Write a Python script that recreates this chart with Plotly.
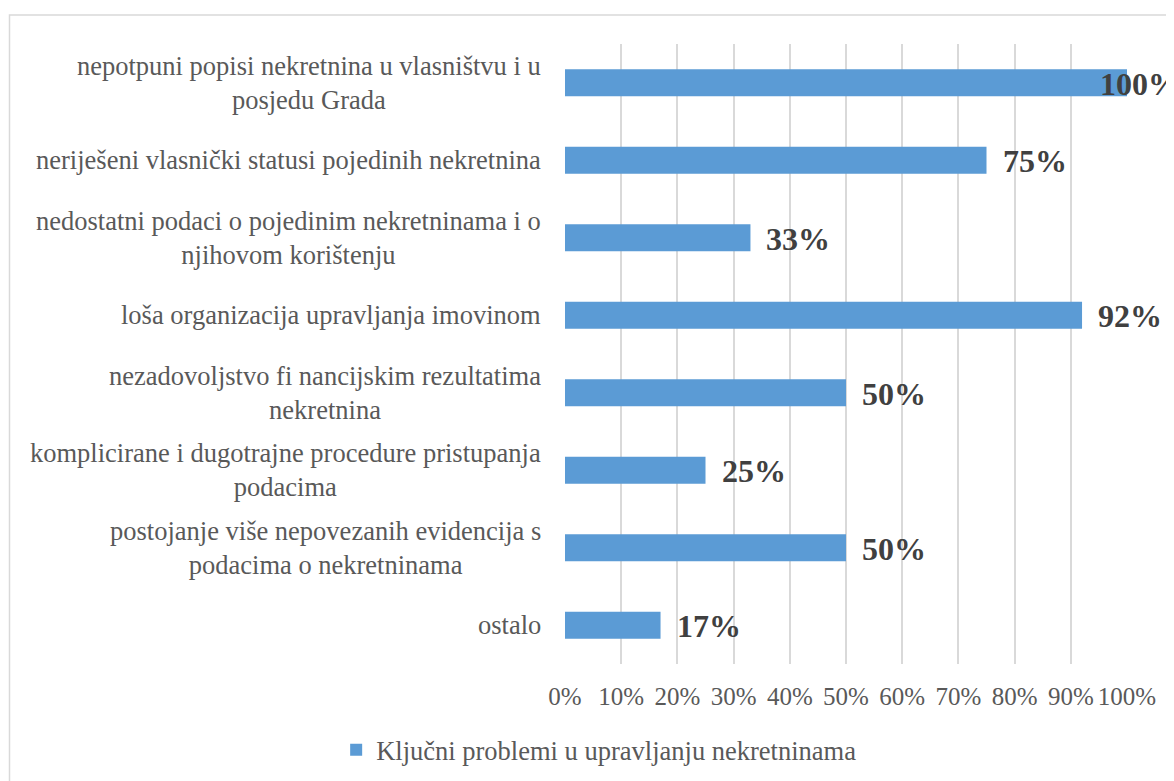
import plotly.graph_objects as go

categories = [
    "nepotpuni popisi nekretnina u vlasništvu i u<br>posjedu Grada",
    "neriješeni vlasnički statusi pojedinih nekretnina",
    "nedostatni podaci o pojedinim nekretninama i o<br>njihovom korištenju",
    "loša organizacija upravljanja imovinom",
    "nezadovoljstvo fi nancijskim rezultatima<br>nekretnina",
    "komplicirane i dugotrajne procedure pristupanja<br>podacima",
    "postojanje više nepovezanih evidencija s<br>podacima o nekretninama",
    "ostalo",
]
values = [1.00, 0.75, 0.33, 0.92, 0.50, 0.25, 0.50, 0.17]
value_labels = ["100%", "75%", "33%", "92%", "50%", "25%", "50%", "17%"]
series_name = "Ključni problemi u upravljanju nekretninama"
tick_vals = [0, 0.1, 0.2, 0.3, 0.4, 0.5, 0.6, 0.7, 0.8, 0.9, 1.0]
tick_text = ["0%", "10%", "20%", "30%", "40%", "50%", "60%", "70%", "80%", "90%", "100%"]

FONT = "Liberation Serif, Times New Roman, serif"
GRAY = "#595959"

W, H = 1166, 773
L, T, PW, PH = 557, 36, 562, 620

fig = go.Figure()
fig.add_trace(go.Bar(
    y=categories, x=values, orientation="h", name=series_name,
    marker=dict(color="#5B9BD5", line=dict(width=0)),
    showlegend=True,
))

annotations = []
for c, v, t in zip(categories, values, value_labels):
    shift = -29 if v >= 1.0 else 14
    annotations.append(dict(
        x=v, y=c, xref="x", yref="y", text="<b>%s</b>" % t, showarrow=False,
        xanchor="left", xshift=shift, yshift=-1,
        font=dict(family=FONT, size=32, color="#404040"),
    ))
    annotations.append(dict(
        x=0, y=c, xref="paper", yref="y", text=c, showarrow=False,
        xanchor="right", xshift=-22, align="center",
        font=dict(family=FONT, size=26.5, color=GRAY),
    ))

fig.update_layout(
    width=W, height=H,
    margin=dict(l=L, r=W - L - PW, t=T, b=H - T - PH),
    paper_bgcolor="white", plot_bgcolor="white",
    font=dict(family=FONT, size=25, color=GRAY),
    bargap=0.65,
    annotations=annotations,
    xaxis=dict(range=[0, 1], tickvals=tick_vals, ticktext=tick_text,
               showgrid=True, gridcolor="#d9d9d9", gridwidth=1.5,
               zeroline=False, showline=False, ticks="", ticklabelstandoff=15,
               tickfont=dict(family=FONT, size=25, color=GRAY), fixedrange=True),
    yaxis=dict(categoryorder="array", categoryarray=categories[::-1],
               showticklabels=False, showgrid=False, zeroline=False, showline=False,
               ticks=""),
    legend=dict(orientation="h", x=0.507, xref="container", xanchor="center",
                y=0.040, yref="container", yanchor="middle",
                font=dict(family=FONT, size=26.5, color=GRAY),
                itemwidth=30),
    shapes=[dict(type="rect", xref="paper", yref="paper",
                 x0=(1.5 - L) / PW, x1=1.3, y0=-0.5, y1=1 + (T - 7) / PH,
                 line=dict(color="#d9d9d9", width=1.5), layer="below")],
)

fig.write_html("out.html")
